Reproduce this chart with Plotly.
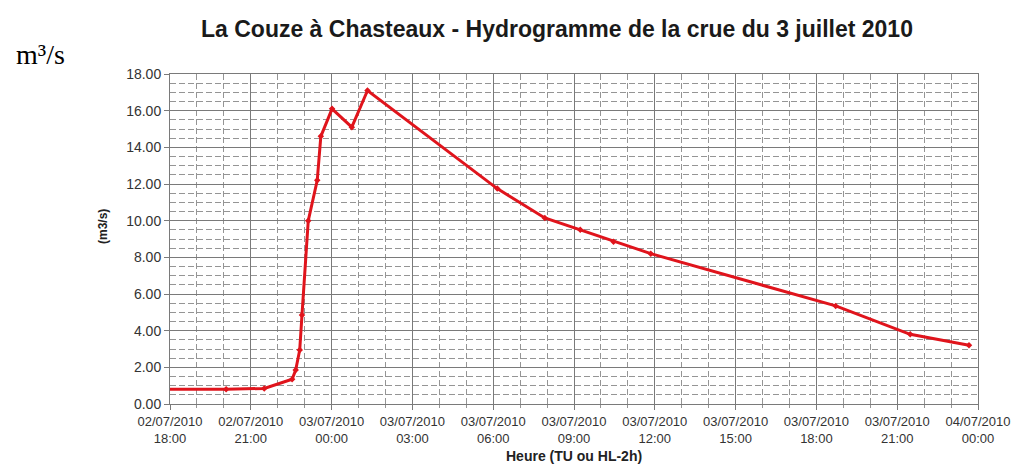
import plotly.graph_objects as go

times = [
    "2010-07-02 17:00", "2010-07-02 20:05", "2010-07-02 21:30", "2010-07-02 22:32",
    "2010-07-02 22:40", "2010-07-02 22:49", "2010-07-02 22:54", "2010-07-02 23:08",
    "2010-07-02 23:28", "2010-07-02 23:36", "2010-07-03 00:01", "2010-07-03 00:45",
    "2010-07-03 01:20", "2010-07-03 06:09", "2010-07-03 07:55", "2010-07-03 09:14",
    "2010-07-03 10:28", "2010-07-03 11:51", "2010-07-03 18:43", "2010-07-03 21:29",
    "2010-07-03 23:40",
]
flows = [
    0.80, 0.80, 0.85, 1.35,
    1.85, 2.95, 4.85, 10.0,
    12.2, 14.6, 16.1, 15.1,
    17.1, 11.75, 10.15, 9.5,
    8.85, 8.2, 5.35, 3.8,
    3.2,
]
x_range = ["2010-07-02 18:00", "2010-07-04 00:00"]
y_range = [0, 18]

title_text = "La Couze à Chasteaux - Hydrogramme de la crue du 3 juillet 2010"
x_title = "Heure (TU ou HL-2h)"
y_title = "(m3/s)"
unit_label = "m³/s"

RED = "#e0141c"
MAJOR = "#7a7a7a"
MINOR = "#959595"
TXT = "#333333"

fig = go.Figure()
fig.add_trace(go.Scatter(
    x=times, y=flows, mode="lines+markers",
    line=dict(color=RED, width=3),
    marker=dict(color=RED, size=5, symbol="diamond"),
    showlegend=False,
))

# page body adds an 8px offset; the right edge is kept clear so the last
# tick label stays fully visible
fig.update_layout(
    width=1014, height=458,
    margin=dict(l=162, r=44, t=66, b=62),
    paper_bgcolor="white", plot_bgcolor="white",
    font=dict(family="Liberation Sans, Arial, sans-serif", color=TXT),
    showlegend=False,
)

fig.update_xaxes(
    type="date", range=x_range, automargin=False,
    tick0="2010-07-02 18:00", dtick=3 * 3600000,
    tickformat="%d/%m/%Y<br>%H:%M",
    tickfont=dict(size=13, color=TXT),
    ticks="outside", ticklen=5, tickcolor=MAJOR,
    showgrid=True, gridcolor=MAJOR, gridwidth=1,
    showline=True, linecolor=MAJOR, linewidth=1, mirror=True,
    minor=dict(dtick=3600000, tick0="2010-07-02 18:00", showgrid=True,
               griddash="6px,3px", gridcolor=MINOR, gridwidth=1,
               ticks="outside", ticklen=3, tickcolor=MINOR),
    zeroline=False,
)
fig.update_yaxes(
    range=y_range, dtick=2, tickformat=".2f", automargin=False,
    tickfont=dict(size=14, color=TXT),
    ticks="outside", ticklen=5, tickcolor=MAJOR,
    showgrid=True, gridcolor=MAJOR, gridwidth=1,
    showline=True, linecolor=MAJOR, linewidth=1, mirror=True,
    minor=dict(dtick=0.5, showgrid=True, griddash="6px,3px",
               gridcolor=MINOR, gridwidth=1),
    zeroline=False,
)

# Chart title
fig.add_annotation(
    text=f"<b>{title_text}</b>", xref="paper", yref="paper",
    x=0.5, xshift=-17, y=1, yshift=45, xanchor="center", yanchor="middle",
    showarrow=False, font=dict(size=23, color="#1a1a1a"),
)
# X axis title
fig.add_annotation(
    text=f"<b>{x_title}</b>", xref="paper", yref="paper",
    x=0.5, y=0, yshift=-52, xanchor="center", yanchor="middle",
    showarrow=False, font=dict(size=14, color="#222222"),
)
# Y axis title (rotated)
fig.add_annotation(
    text=f"<b>{y_title}</b>", xref="paper", yref="paper",
    x=0, xshift=-67, y=0.5, yshift=12, xanchor="center", yanchor="middle",
    textangle=-90, showarrow=False, font=dict(size=12, color="#222222"),
)
# Unit label at top-left
fig.add_annotation(
    text=unit_label, xref="paper", yref="paper",
    x=0, xshift=-130, y=1, yshift=20, xanchor="center", yanchor="middle",
    showarrow=False, font=dict(family="Liberation Serif, Times New Roman, serif",
                               size=28, color="black"),
)

fig.write_html("out.html")
